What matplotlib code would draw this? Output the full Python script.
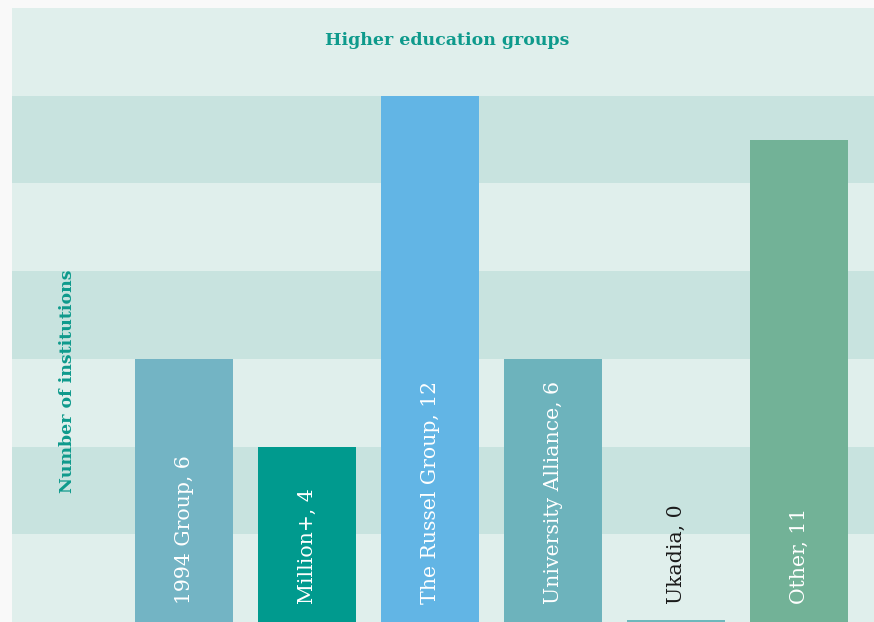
import numpy as np
import matplotlib.pyplot as plt

groups = ['1994 Group', 'Million+', 'The Russel Group', 'University Alliance', 'Ukadia', 'Other']
counts = [6, 4, 12, 6, 0, 11]
bar_colors = ['#73b4c4', '#009a8e', '#62b5e5', '#6db3bc', '#6db8bc', '#72b297']
label_colors = ['white', 'white', 'white', 'white', '#1a1a1a', 'white']

light_bg = '#e0efec'
dark_band = '#c8e3df'
teal = '#0e9a8c'

fig = plt.figure(figsize=(8.74, 6.22), dpi=100, facecolor='#f9f9f9')
ax = fig.add_axes([12/874, 0, 862/874, 614/622])
ax.set_facecolor(light_bg)

# bandas alternas cada 2 unidades
for y0 in range(2, 14, 4):
    ax.axhspan(y0, y0 + 2, color=dark_band, lw=0, zorder=0)

x = np.arange(len(groups))
ax.bar(x, counts, width=0.8, bottom=0, color=bar_colors, zorder=2)
# Ukadia = 0, se ve una franja minima
ax.bar(x[4], 0.05, width=0.8, color=bar_colors[4], zorder=2)

for xi, g, c, lc in zip(x, groups, counts, label_colors):
    ax.text(xi, 0.41, f"{g}, {c}", rotation=90, ha='center', va='bottom',
            color=lc, fontsize=14.7, family='DejaVu Serif', zorder=3)

ax.text(0.505, 13.25, 'Higher education groups', transform=ax.get_yaxis_transform(),
        ha='center', va='center', color=teal, fontsize=12.5, fontweight='bold',
        family='DejaVu Serif')
ax.text(0.064, 0.392, 'Number of institutions', transform=ax.transAxes, rotation=90,
        ha='center', va='center', color=teal, fontsize=12.5, fontweight='bold',
        family='DejaVu Serif')

ax.set_xlim(-1.40, 5.61)
ax.set_ylim(0, 14)
ax.set_xticks([])
ax.set_yticks([])
for s in ax.spines.values():
    s.set_visible(False)

fig.savefig('out.png', dpi=100, facecolor=fig.get_facecolor())
